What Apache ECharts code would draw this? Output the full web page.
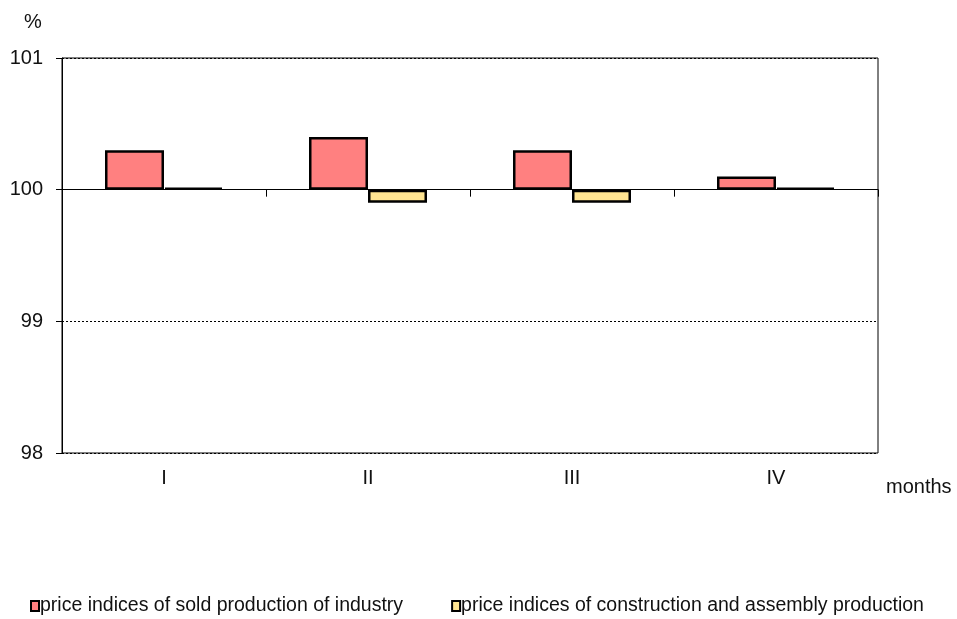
<!DOCTYPE html>
<html>
<head>
<meta charset="utf-8">
<script src="https://cdn.jsdelivr.net/npm/echarts@6/dist/echarts.min.js"></script>
<style>html,body{margin:0;padding:0;background:#fff;}#c{width:957px;height:619px;}</style>
</head>
<body>
<div id="c"></div>
<script>
const categories = ['I', 'II', 'III', 'IV'];
const industry = [100.3, 100.4, 100.3, 100.1];
const construction = [100.0, 99.9, 99.9, 100.0];
const yTicks = [98, 99, 100, 101];
const seriesNames = ['price indices of sold production of industry', 'price indices of construction and assembly production'];
const BASE = 100;

const font = 'Liberation Sans, Arial, sans-serif';
const chart = echarts.init(document.getElementById('c'));
const rel = arr => arr.map(v => +(v - BASE).toFixed(3));

chart.setOption({
  animation: false,
  textStyle: { fontFamily: font },
  grid: { left: 62, right: 79, top: 58, bottom: 166, show: true, borderColor: '#000', borderWidth: 1 },
  legend: {
    left: 25, top: 591,
    itemWidth: 8, itemHeight: 10, itemGap: 48,
    icon: 'rect',
    textStyle: { fontFamily: font, fontSize: 19.5, color: '#111', padding: [0, 0, 0, -4] },
    data: seriesNames
  },
  xAxis: [
    {
      type: 'category', data: categories,
      axisLine: { show: true, onZero: true, lineStyle: { color: '#000', width: 1 } },
      axisTick: { show: true, length: 7, lineStyle: { color: '#000' } },
      axisLabel: { show: false },
      splitLine: { show: false }
    },
    {
      type: 'category', data: categories, position: 'bottom',
      axisLine: { show: false, onZero: false },
      axisTick: { show: false },
      axisLabel: { show: true, fontSize: 20, color: '#111', margin: 15, fontFamily: font },
      splitLine: { show: false }
    }
  ],
  yAxis: {
    type: 'value', min: yTicks[0] - BASE, max: yTicks[yTicks.length - 1] - BASE, interval: 1,
    axisLine: { show: true, lineStyle: { color: '#000', width: 1 } },
    axisTick: { show: true, length: 6, lineStyle: { color: '#000' } },
    axisLabel: { fontSize: 20, color: '#111', margin: 19, fontFamily: font, formatter: v => String(Math.round(v + BASE)) },
    splitLine: { show: true, lineStyle: { color: '#000', type: [2, 2], width: 1 } }
  },
  graphic: [
    { type: 'text', left: 24, top: 12, style: { text: '%', fontSize: 20, fontFamily: font, fill: '#111' } },
    { type: 'text', left: 886, top: 477, style: { text: 'months', fontSize: 20, fontFamily: font, fill: '#111' } }
  ],
  series: [
    {
      name: seriesNames[0], type: 'bar', xAxisIndex: 0, data: rel(industry),
      barWidth: 59, barGap: '0%',
      itemStyle: { color: '#FF8080', borderColor: '#000', borderWidth: 2.5 }
    },
    {
      name: seriesNames[1], type: 'bar', xAxisIndex: 0, data: rel(construction),
      barWidth: 59, barGap: '0%', barMinHeight: 2,
      itemStyle: { color: '#FFE491', borderColor: '#000', borderWidth: 2.5 }
    }
  ]
});
</script>
</body>
</html>
